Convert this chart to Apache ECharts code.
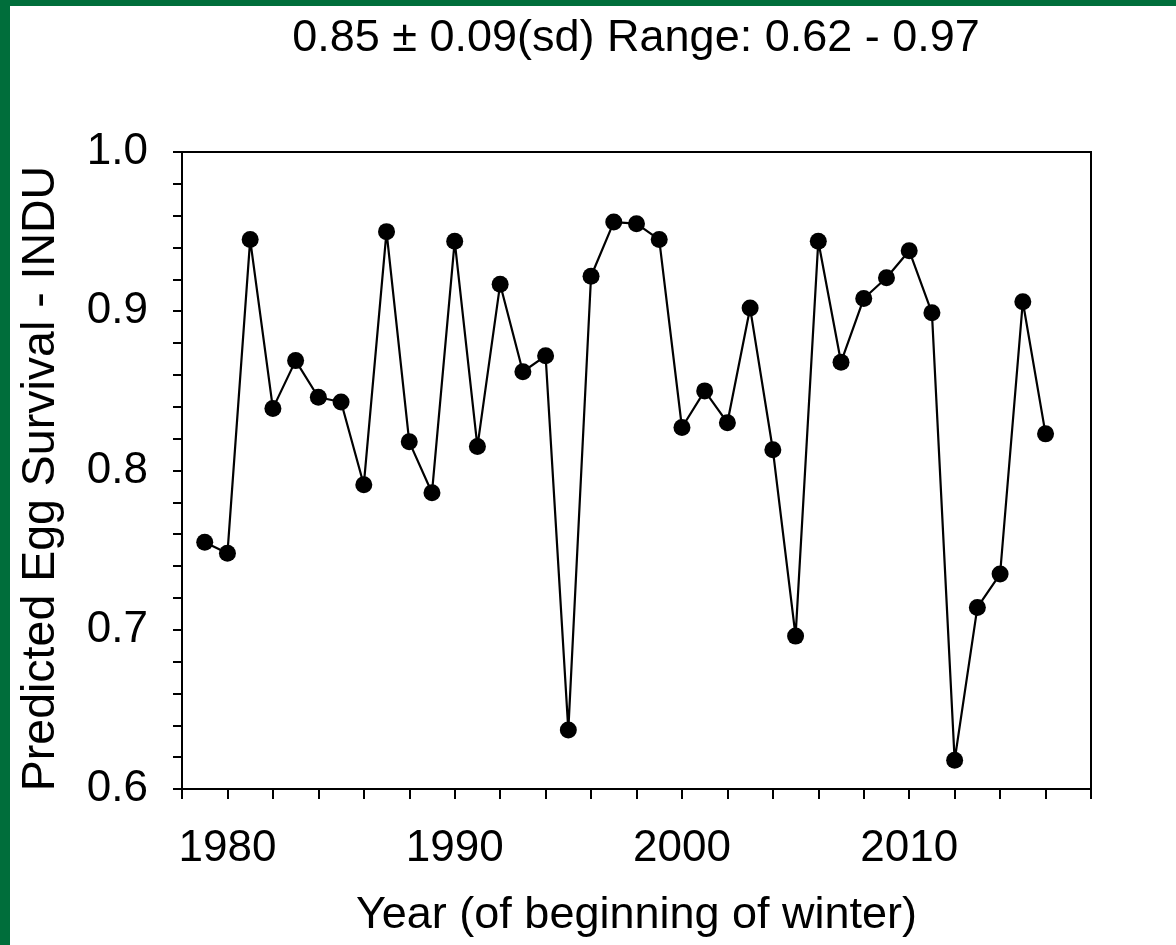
<!DOCTYPE html>
<html>
<head>
<meta charset="utf-8">
<script src="https://cdn.jsdelivr.net/npm/echarts@6/dist/echarts.min.js"></script>
<style>
html,body{margin:0;padding:0;background:#fff;}
#chart{width:1176px;height:945px;}
</style>
</head>
<body>
<div id="chart"></div>
<script>
const years = [1979,1980,1981,1982,1983,1984,1985,1986,1987,1988,1989,1990,1991,1992,1993,1994,1995,1996,1997,1998,1999,2000,2001,2002,2003,2004,2005,2006,2007,2008,2009,2010,2011,2012,2013,2014,2015,2016];
const survival = [0.755,0.748,0.945,0.839,0.869,0.846,0.843,0.791,0.950,0.818,0.786,0.944,0.815,0.917,0.862,0.872,0.637,0.922,0.956,0.955,0.945,0.827,0.850,0.830,0.902,0.813,0.696,0.944,0.868,0.908,0.921,0.938,0.899,0.618,0.714,0.735,0.906,0.823];
const titleText = '0.85 \u00b1 0.09(sd) Range: 0.62 - 0.97';
const xName = 'Year (of beginning of winter)';
const yName = 'Predicted Egg Survival - INDU';
const xLabelYears = [1980,1990,2000,2010];

const FONT = 'Liberation Sans, Arial, sans-serif';
const chart = echarts.init(document.getElementById('chart'));
const points = years.map((y,i)=>[y, survival[i]]);

chart.setOption({
  animation:false,
  backgroundColor:'#fff',
  grid:{left:182, top:152, right:85, bottom:156, show:true, borderColor:'#000', borderWidth:2, backgroundColor:'transparent'},
  graphic:[
    {type:'rect', left:0, top:0, shape:{width:10, height:945}, style:{fill:'#006e3b'}, z:100},
    {type:'rect', left:0, top:0, shape:{width:1176, height:6}, style:{fill:'#006e3b'}, z:100},
    {type:'text', x:636, y:16, style:{text:titleText, font:'45px '+FONT, fill:'#000', textAlign:'center', textVerticalAlign:'top'}}
  ],
  xAxis:{
    type:'value', min:1978, max:2018, interval:2,
    name:xName, nameLocation:'middle', nameGap:104,
    nameTextStyle:{fontSize:45, fontFamily:FONT, color:'#000'},
    axisLine:{lineStyle:{color:'#000', width:2}},
    axisTick:{show:true, inside:false, length:10, lineStyle:{color:'#000', width:2}},
    axisLabel:{color:'#000', fontSize:44, fontFamily:FONT, margin:38,
      formatter:function(v){return xLabelYears.indexOf(v)>=0 ? String(v) : '';}},
    splitLine:{show:false}
  },
  yAxis:{
    type:'value', min:0.6, max:1.0, interval:0.1,
    name:yName, nameLocation:'middle', nameGap:117,
    nameTextStyle:{fontSize:46.5, fontFamily:FONT, color:'#000', padding:[0,16,0,0]},
    axisLine:{show:true, lineStyle:{color:'#000', width:2}},
    axisTick:{show:true, inside:false, length:9, lineStyle:{color:'#000', width:2}},
    minorTick:{show:true, splitNumber:5, length:9, lineStyle:{color:'#000', width:2}},
    axisLabel:{color:'#000', fontSize:44, fontFamily:FONT, margin:34,
      formatter:function(v){return v.toFixed(1);}},
    splitLine:{show:false}
  },
  series:[{
    type:'line', data:points,
    symbol:'circle', symbolSize:17,
    itemStyle:{color:'#000'},
    lineStyle:{color:'#000', width:2.2}
  }]
});
</script>
</body>
</html>
